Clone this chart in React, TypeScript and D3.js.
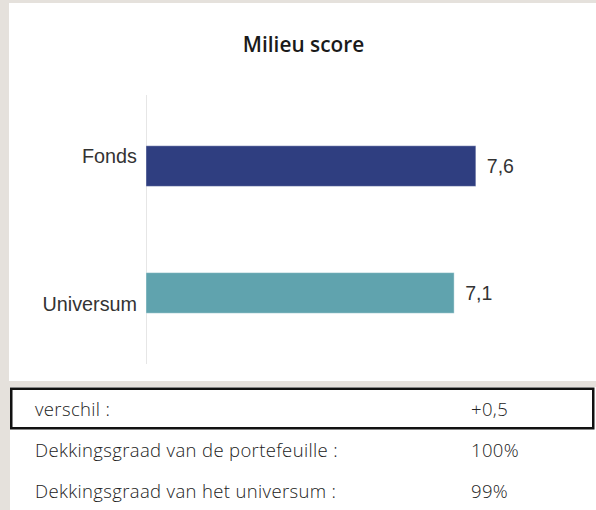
import React from "react";
import * as d3 from "d3";

const title = "Milieu score";
const categories = ["Fonds", "Universum"];
const values = [7.6, 7.1];
const valueLabels = ["7,6", "7,1"];
const barColors = ["#2f3e80", "#60a3ae"];
const xDomain = [0, 10];

const tableLabels = [
  "verschil :",
  "Dekkingsgraad van de portefeuille :",
  "Dekkingsgraad van het universum :",
];
const tableValues = ["+0,5", "100%", "99%"];

const W = 596;
const H = 510;

export default function App() {
  const x = d3.scaleLinear().domain(xDomain).range([146, 580]);
  const y = d3
    .scaleBand<string>()
    .domain(categories)
    .range([95, 364])
    .paddingInner(0.68)
    .paddingOuter(0.4);

  const labelDy = [-3, 18.5];
  const rowY = d3.scalePoint<number>().domain([0, 1, 2]).range([416, 498]);

  return (
    <svg
      width={W}
      height={H}
      style={{ position: "absolute", left: 0, top: 0, display: "block" }}
    >
      <rect x={0} y={0} width={W} height={H} fill="#e5e1dc" />
      <rect x={9} y={3} width={W - 9} height={378} fill="#ffffff" />
      <rect x={10} y={387} width={W - 10} height={H - 387} fill="#ffffff" />
      <text
        x={303.5}
        y={52}
        textAnchor="middle"
        fontFamily="'Open Sans', sans-serif"
        fontWeight={600}
        fontSize={20.8}
        fill="#1a1a1a"
      >
        {title}
      </text>
      <line x1={146.5} x2={146.5} y1={95} y2={364} stroke="#e6e6e6" strokeWidth={1} />
      {categories.map((c, i) => {
        const by = y(c) as number;
        const bw = y.bandwidth();
        return (
          <g key={c}>
            <rect
              x={x(0)}
              y={by}
              width={x(values[i]) - x(0)}
              height={bw}
              fill={barColors[i]}
              stroke="#ffffff"
              strokeOpacity={0.4}
              strokeWidth={1}
            />
            <text
              x={137}
              y={by + bw / 2 + labelDy[i]}
              textAnchor="end"
              fontFamily="'Liberation Sans', Arial, sans-serif"
              fontSize={19.8}
              fill="#333333"
            >
              {c}
            </text>
            <text
              x={x(values[i]) + 11}
              y={by + bw / 2}
              dy="0.35em"
              fontFamily="'Liberation Sans', Arial, sans-serif"
              fontSize={19.5}
              fill="#333333"
            >
              {valueLabels[i]}
            </text>
          </g>
        );
      })}
      <rect
        x={11.25}
        y={388.75}
        width={582}
        height={39.5}
        fill="none"
        stroke="#111111"
        strokeWidth={2.5}
      />
      {tableLabels.map((t, i) => (
        <g key={t}>
          <text
            x={35}
            y={rowY(i)}
            fontFamily="'Open Sans', sans-serif"
            fontWeight={300}
            fontSize={18.5}
            letterSpacing={0.35}
            fill="#222222"
          >
            {t}
          </text>
          <text
            x={471}
            y={rowY(i)}
            fontFamily="'Open Sans', sans-serif"
            fontWeight={300}
            fontSize={18.5}
            letterSpacing={0.35}
            fill="#222222"
          >
            {tableValues[i]}
          </text>
        </g>
      ))}
    </svg>
  );
}
